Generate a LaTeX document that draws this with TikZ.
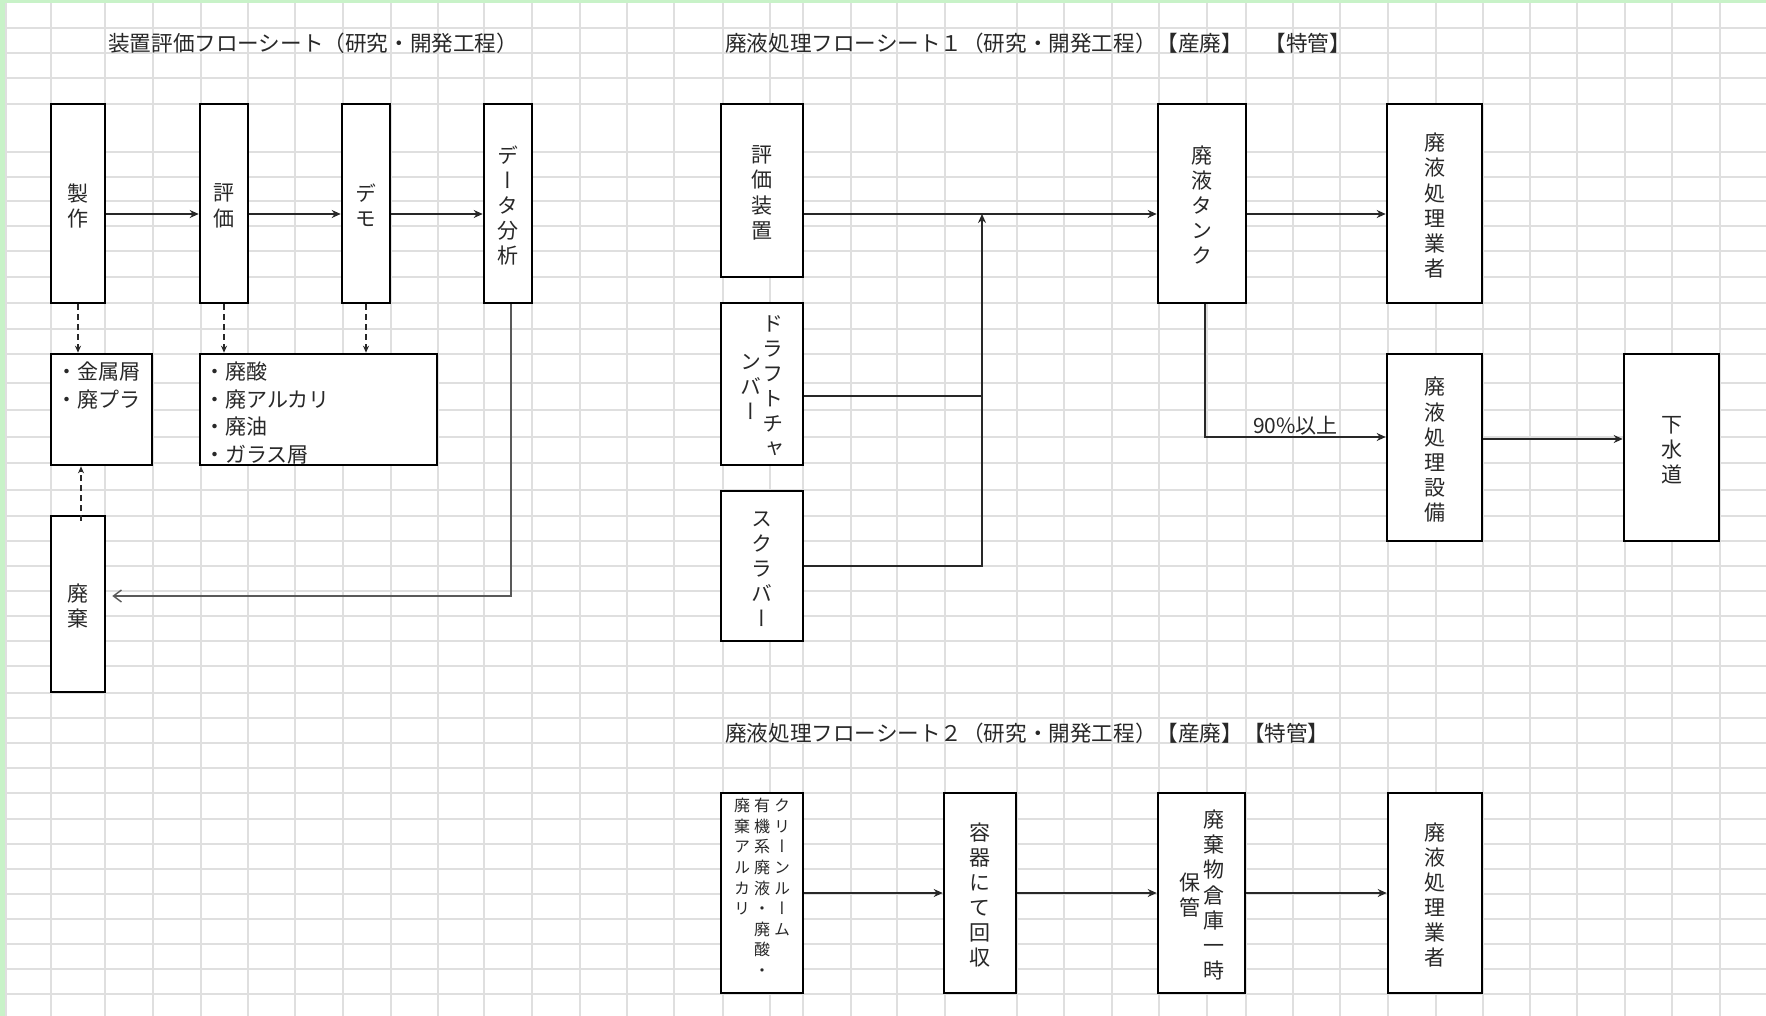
\documentclass[tikz,border=0pt]{standalone}
\usepackage{fontspec}
\setmainfont{Noto Sans CJK JP}
\newfontfamily\vjp[RawFeature=+vert]{Noto Sans CJK JP}
\usetikzlibrary{arrows.meta}
\definecolor{sheetgreen}{RGB}{200,242,200}
\definecolor{gridgray}{RGB}{223,223,223}
\definecolor{ink}{RGB}{40,40,40}
\newcommand{\vcol}[1]{\raisebox{-5pt}[\height][\depth]{\begin{tabular}[c]{@{}c@{}}#1\end{tabular}}}
\newcommand{\vcolt}[1]{\begin{tabular}[t]{@{}c@{}}#1\end{tabular}}
\tikzset{
  flowbox/.style={draw=black, line width=2.6pt, fill=white, inner sep=0pt, text=ink,
    font=\vjp\fontsize{21}{25}\selectfont},
  wh/.style 2 args={minimum width=#1pt, minimum height=#2pt},
  listtext/.style={anchor=north west, align=left, inner sep=0pt, text=ink,
    font=\fontsize{21}{27.5}\selectfont},
  sheettitle/.style={anchor=west, inner sep=0pt, text=ink, font=\fontsize{21.6}{25}\selectfont},
  link/.style={line width=1.4pt, draw=ink},
  arr/.style={link, -{Stealth[length=9pt,width=8pt]}},
  dasharr/.style={line width=1.3pt, draw=ink, dash pattern=on 6pt off 4pt,
    -{Stealth[length=7pt,width=6pt]}},
  backarr/.style={line width=1.4pt, draw=black!65, -{Straight Barb[length=8pt,width=12pt]}},
}
\begin{document}
\begin{tikzpicture}[x=1pt,y=-1pt]
\useasboundingbox (0,0) rectangle (1766,1016);
\fill[white] (0,0) rectangle (1766,1016);
% sheet grid
\foreach \gx in {6,51,105,153,201,248,295,343,391,438,484,532,580,627,674,723,770,803,851,897,945,1017,1064,1112,1159,1207,1246,1293,1340,1388,1436,1483,1530,1577,1625,1672,1720}
  \draw[gridgray, line width=1.1pt] (\gx,3) -- (\gx,1016);
\foreach \gy in {28,53,78,104,152,177,201,226,251,277,303,329,354,383,410,437,463,490,516,541,566,591,616,641,666,693,718,743,768,793,819,844,869,894,919,944,969,994}
  \draw[gridgray, line width=1.1pt] (6,\gy) -- (1766,\gy);
\fill[sheetgreen] (0,0) rectangle (1766,3);
\fill[sheetgreen] (0,0) rectangle (5,1016);

\node[sheettitle] (title1) at (108,43) {装置評価フローシート（研究・開発工程）};
\node[sheettitle] (title2) at (725,43) {廃液処理フローシート１（研究・開発工程）【産廃】　【特管】};
\node[sheettitle] (title3) at (725,733) {廃液処理フローシート２（研究・開発工程）【産廃】【特管】};

% device evaluation
\node[flowbox, wh={54}{199}] (make) at (78,203.5) {\vcol{製\\作}};
\node[flowbox, wh={48}{199}] (eval) at (224,203.5) {\vcol{評\\価}};
\node[flowbox, wh={48}{199}] (demo) at (366,203.5) {\vcol{デ\\モ}};
\node[flowbox, wh={48}{199}] (anal) at (508,203.5) {\vcol{デ\\ー\\タ\\分\\析}};
\node[flowbox, wh={101}{111}] (solid) at (101.5,409.5) {};
\node[flowbox, wh={237}{111}] (liquid) at (318.5,409.5) {};
\node[listtext] (solidtext) at (56,362) {・金属屑\\・廃プラ};
\node[listtext] (liquidtext) at (204,362) {・廃酸\\・廃アルカリ\\・廃油\\・ガラス屑};
\node[flowbox, wh={54}{176}] (disp) at (78,604) {\vcol{廃\\棄}};
\coordinate (row1) at (0,214);
\draw[arr] (make.east |- row1) -- (eval.west |- row1);
\draw[arr] (eval.east |- row1) -- (demo.west |- row1);
\draw[arr] (demo.east |- row1) -- (anal.west |- row1);
\draw[dasharr] (make.south) -- (make.south |- solid.north);
\draw[dasharr] (eval.south) -- (eval.south |- liquid.north);
\draw[dasharr] (demo.south) -- (demo.south |- liquid.north);
\draw[dasharr] ([xshift=3pt,yshift=-6pt]disp.north) -- ([xshift=3pt]disp.north |- solid.south);
\draw[backarr] ([xshift=3pt]anal.south) |- ([xshift=6pt,yshift=8pt]disp.east);

% waste liquid 1
\node[flowbox, wh={82}{173}] (device) at (762,190.5) {\vcol{評\\価\\装\\置}};
\node[flowbox, wh={82}{162}] (draft) at (762,384) {\vcol{ン\\バ\\ー}\hspace{1pt}\vcol{ド\\ラ\\フ\\ト\\チ\\ャ}};
\node[flowbox, wh={82}{150}] (scrub) at (762,566) {\vcol{ス\\ク\\ラ\\バ\\ー}};
\node[flowbox, wh={88}{199}] (tank) at (1202,203.5) {\vcol{廃\\液\\タ\\ン\\ク}};
\node[flowbox, wh={95}{199}] (vendor) at (1434.5,203.5) {\vcol{廃\\液\\処\\理\\業\\者}};
\node[flowbox, wh={95}{187}] (plant) at (1434.5,447.5) {\vcol{廃\\液\\処\\理\\設\\備}};
\node[flowbox, wh={95}{187}] (sewer) at (1671.5,447.5) {\vcol{下\\水\\道}};
\coordinate (merge) at (982,214);
\coordinate (draftout) at ([yshift=-12pt]draft.east);
\draw[arr] (device.east |- row1) -- (tank.west |- row1);
\draw[link] (draftout) -- (draftout -| merge);
\draw[arr] (scrub.east) -| (merge);
\draw[arr] (tank.east |- row1) -- (vendor.west |- row1);
\draw[arr] ([xshift=3pt]tank.south) |- ([yshift=10.5pt]plant.west)
  node[pos=0.75, above, inner sep=1pt, text=ink, font=\fontsize{21}{25}\selectfont] (ratio) {90\%以上};
\draw[arr] ([yshift=8.5pt]plant.east) -- ([yshift=8.5pt]sewer.west);

% waste liquid 2
\node[flowbox, wh={82}{200}] (clean) at (762,893) {};
\node[anchor=base, inner sep=0pt, text=ink, font=\vjp\fontsize{16}{20.6}\selectfont] (cleantext)
  at ([yshift=-20pt]clean.north) {\vcolt{廃\\棄\\ア\\ル\\カ\\リ}\hspace{4pt}\vcolt{有\\機\\系\\廃\\液\\・\\廃\\酸\\・}\hspace{4pt}\vcolt{ク\\リ\\ー\\ン\\ル\\ー\\ム}};
\node[flowbox, wh={72}{200}] (collect) at (980,893) {\vcol{容\\器\\に\\て\\回\\収}};
\node[flowbox, wh={87}{200}] (store) at (1201.5,893) {\vcol{保\\管}\hspace{3pt}\vcol{廃\\棄\\物\\倉\\庫\\一\\時}};
\node[flowbox, wh={94}{200}] (vendor2) at (1435,893) {\vcol{廃\\液\\処\\理\\業\\者}};
\draw[arr] (clean.east) -- (collect.west);
\draw[arr] (collect.east) -- (store.west);
\draw[arr] (store.east) -- (vendor2.west);
\end{tikzpicture}
\end{document}
